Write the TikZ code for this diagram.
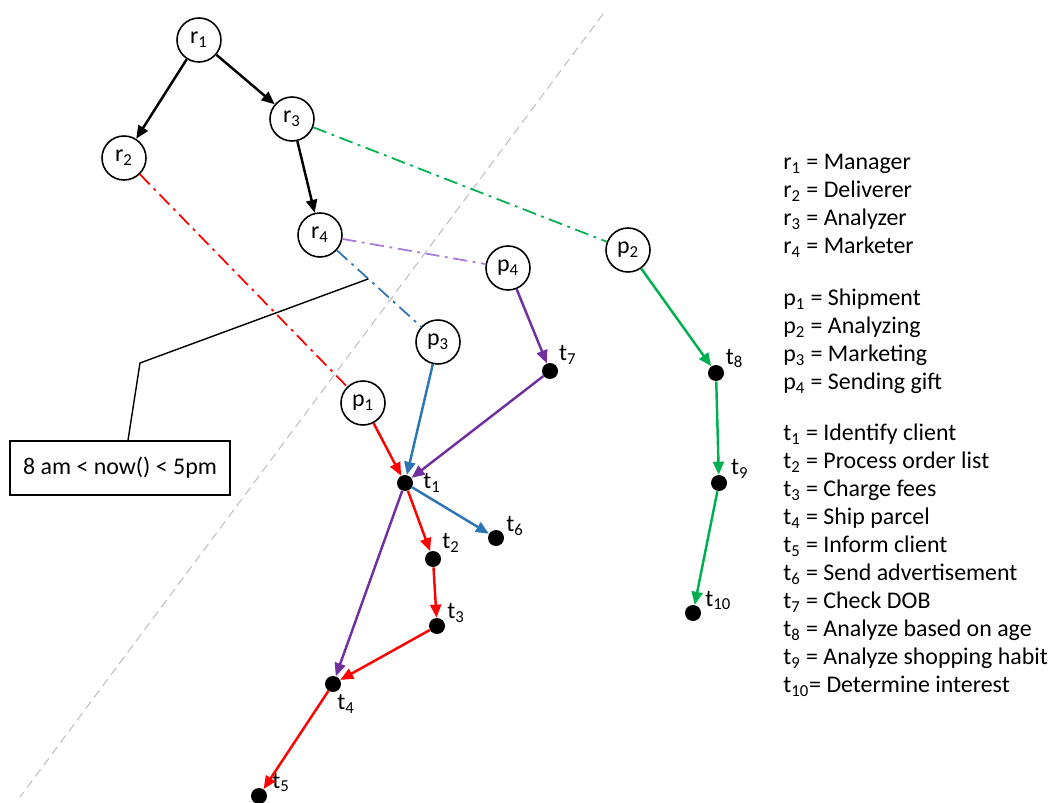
\documentclass[tikz,border=0pt]{standalone}
\usepackage{fontspec}
\setmainfont{Carlito}
\usetikzlibrary{arrows.meta}
\usetikzlibrary{calc,positioning}
\definecolor{ored}{HTML}{FF0000}
\definecolor{oblue}{HTML}{2E75B6}
\definecolor{opurple}{HTML}{7030A0}
\definecolor{olilac}{HTML}{A77BD6}
\definecolor{ogreen}{HTML}{00B050}
\definecolor{ogrey}{HTML}{C0C0C0}
\newcommand{\idx}[2]{#1\textsubscript{#2}}

\begin{document}
\begin{tikzpicture}
		[x=0.02cm,y=-0.02cm,
		 font=\fontsize{13.6}{16}\selectfont,
		 role/.style={circle,draw,line width=0.9pt,minimum size=0.88cm,inner sep=0pt},
		 task/.style={circle,fill=black,minimum size=0.32cm,inner sep=0pt},
		 lab/.style={inner sep=1pt,label distance=0pt},
		 flow/.style={-{Triangle[length=0.26cm,width=0.22cm]},line width=1.4pt},
		 link/.style={line width=1pt,dash pattern=on 8pt off 3.2pt on 1.6pt off 3.2pt},
		 key/.style={anchor=north west,align=left,inner sep=0pt,font=\fontsize{13.6}{15.9}\selectfont}]

		\useasboundingbox (0,0) rectangle (1057,803);

		% time zone border
		\coordinate (gtop) at (603,14);
		\coordinate (gbot) at (20,797);
		\draw[ogrey,line width=0.6pt,dash pattern=on 5pt off 3pt] (gtop) -- (gbot);

		% roles
		\node[role] (r1) at (199,40) {\idx{r}{1}};
		\node[role] (r2) at (124,158) {\idx{r}{2}};
		\node[role] (r3) at (292,119) {\idx{r}{3}};
		\node[role] (r4) at (320,235) {\idx{r}{4}};
		\draw[flow] (r1) -- (r2);
		\draw[flow] (r1) -- (r3);
		\draw[flow] (r3) -- (r4);

		% processes
		\node[role] (p1) at (363,403) {\idx{p}{1}};
		\node[role] (p2) at (628,250) {\idx{p}{2}};
		\node[role] (p3) at (438,342) {\idx{p}{3}};
		\node[role] (p4) at (508,268) {\idx{p}{4}};
		\draw[link,ored] (r2) -- (p1);
		\draw[link,ogreen] (r3) -- (p2);
		\draw[link,olilac] (r4) -- (p4);
		\draw[link,oblue] (r4) -- (p3);

		% tasks
		\node[task,label={[lab,label distance=0.16cm]right:\idx{t}{1}}] (t1) at (405,483) {};
		\node[task,label={[lab]30:\idx{t}{2}}] (t2) at (433,559) {};
		\node[task,label={[lab]8:\idx{t}{3}}] (t3) at (437,626) {};
		\node[task,label={[lab]-75:\idx{t}{4}}] (t4) at (333,684) {};
		\node[task,label={[lab,label distance=0.06cm]10:\idx{t}{5}}] (t5) at (259,796) {};
		\node[task,label={[lab]5:\idx{t}{6}}] (t6) at (496,538) {};
		\node[task,label={[lab]32:\idx{t}{7}}] (t7) at (550,371) {};
		\node[task,label={[lab]20:\idx{t}{8}}] (t8) at (716,373) {};
		\node[task,label={[lab,label distance=0.04cm]15:\idx{t}{9}}] (t9) at (719,483) {};
		\node[task,label={[lab,label distance=0.04cm]5:\idx{t}{10}}] (t10) at (693,613) {};

		\draw[flow,ored] (p1) -- (t1);
		\draw[flow,oblue] (p3) -- (t1);
		\draw[flow,opurple] (p4) -- (t7);
		\draw[flow,opurple] (t7) -- (t1);
		\draw[flow,oblue] (t1) -- (t6);
		\draw[flow,ored] (t1) -- (t2);
		\draw[flow,ored] (t2) -- (t3);
		\draw[flow,ored] (t3) -- (t4);
		\draw[flow,ored] (t4) -- (t5);
		\draw[flow,opurple] (t1) -- (t4);
		\draw[flow,ogreen] (p2) -- (t8);
		\draw[flow,ogreen] (t8) -- (t9);
		\draw[flow,ogreen] (t9) -- (t10);

		% time condition
		\node[draw,line width=0.9pt,minimum width=4.4cm,minimum height=1.08cm] (cond) at (120,468) {8 am < now() < 5pm};
		\coordinate (bend) at (140,363);
		\coordinate (tip) at ($(r4)!0.41!(p3)$);
		\draw[line width=0.8pt] (tip) -- (bend) -- ([xshift=0.16cm]cond.north);

		% legend
		\node[key] (rkey) at (783,154) {\idx{r}{1} = Manager\\\idx{r}{2} = Deliverer\\\idx{r}{3} = Analyzer\\\idx{r}{4} = Marketer};
		\node[key] (pkey) at (783,289) {\idx{p}{1} = Shipment\\\idx{p}{2} = Analyzing\\\idx{p}{3} = Marketing\\\idx{p}{4} = Sending gift};
		\node[key] (tkey) at (783,424) {\idx{t}{1} = Identify client\\\idx{t}{2} = Process order list\\\idx{t}{3} = Charge fees\\\idx{t}{4} = Ship parcel\\\idx{t}{5} = Inform client\\\idx{t}{6} = Send advertisement\\\idx{t}{7} = Check DOB\\\idx{t}{8} = Analyze based on age\\\idx{t}{9} = Analyze shopping habit\\\idx{t}{10}= Determine interest};
	\end{tikzpicture}
\end{document}
